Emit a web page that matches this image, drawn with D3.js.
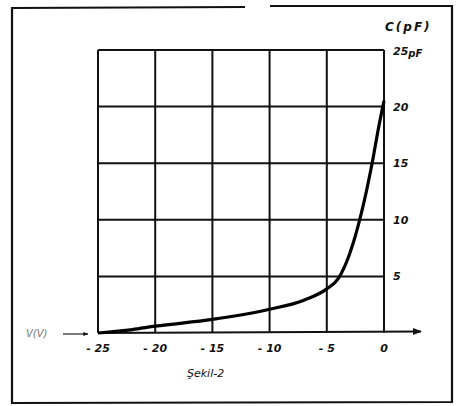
<!DOCTYPE html>
<html>
<head>
<meta charset="utf-8">
<script src="https://cdn.jsdelivr.net/npm/d3@7"></script>
<style>
  body { margin: 0; background: #fff; }
  text { font-family: "DejaVu Sans", sans-serif; font-style: italic; font-weight: bold; fill: #111; }
</style>
</head>
<body>
<div id="chart"></div>
<script>
  // reverse voltage (V) and capacitance (pF)
  const voltage = [-25, -22, -20, -15, -10, -7, -5, -4, -3, -2, -1, -0.5, 0];
  const capacitance = [0, 0.3, 0.6, 1.2, 2.1, 2.9, 3.9, 4.8, 7, 10.5, 15.2, 18, 20.5];
  const xTicks = [-25, -20, -15, -10, -5, 0];
  const yTicks = [5, 10, 15, 20, 25];

  const W = 459, H = 406;
  const mLeft = 98, mRight = 384, mTop = 50, mBottom = 333;

  const svg = d3.select("#chart").append("svg")
    .attr("width", W).attr("height", H);

  const x = d3.scaleLinear().domain([-25, 0]).range([mLeft, mRight]);
  const y = d3.scaleLinear().domain([0, 25]).range([mBottom, mTop]);

  // outer frame, with the torn gap on top
  svg.append("path")
    .attr("d", `M245,7 L12,8 L12,403 L452,402 L452,6 L270,6`)
    .attr("fill", "none").attr("stroke", "#111").attr("stroke-width", 2.2);

  // grid
  const grid = svg.append("g").attr("stroke", "#111").attr("stroke-width", 2);
  grid.selectAll(".v").data(xTicks).join("line")
    .attr("x1", d => x(d)).attr("x2", d => x(d))
    .attr("y1", y(25)).attr("y2", y(0));
  grid.selectAll(".h").data(yTicks).join("line")
    .attr("x1", x(-25)).attr("x2", x(0))
    .attr("y1", d => y(d)).attr("y2", d => y(d));

  // x axis extended with arrow
  svg.append("defs").append("marker")
    .attr("id", "arr").attr("viewBox", "0 0 10 10")
    .attr("refX", 9).attr("refY", 5)
    .attr("markerWidth", 5).attr("markerHeight", 4).attr("orient", "auto")
    .append("path").attr("d", "M0,1 L10,5 L0,9 Z").attr("fill", "#111");

  svg.append("line")
    .attr("x1", x(-25)).attr("x2", 421).attr("y1", y(0)).attr("y2", y(0) - 1.5)
    .attr("stroke", "#111").attr("stroke-width", 2.2)
    .attr("marker-end", "url(#arr)");

  // left small arrow and faint label
  svg.append("line")
    .attr("x1", 63).attr("x2", 88).attr("y1", 334).attr("y2", 334)
    .attr("stroke", "#333").attr("stroke-width", 1.3)
    .attr("marker-end", "url(#arr)");
  svg.append("text").attr("x", 26).attr("y", 337)
    .attr("font-size", 10).style("font-weight", "normal").style("fill", "#777").text("V(V)");

  // curve
  const pts = voltage.map((v, i) => [v, capacitance[i]]);
  svg.append("path")
    .datum(pts)
    .attr("fill", "none").attr("stroke", "#000").attr("stroke-width", 3.2)
    .attr("d", d3.line().x(d => x(d[0])).y(d => y(d[1])).curve(d3.curveMonotoneX));

  // tick labels
  svg.selectAll(".xl").data(xTicks).join("text")
    .attr("x", d => x(d)).attr("y", 352)
    .attr("text-anchor", "middle").attr("font-size", 11)
    .text(d => d === 0 ? "0" : "- " + Math.abs(d));

  svg.selectAll(".yl").data(yTicks.filter(d => d < 25)).join("text")
    .attr("x", x(0) + 9).attr("y", d => y(d) + 4)
    .attr("font-size", 11)
    .text(d => d);

  const t25 = svg.append("text").attr("x", x(0) + 9).attr("y", y(25) + 5).attr("font-size", 11);
  t25.append("tspan").text("25");
  t25.append("tspan").attr("font-size", 10).attr("dy", 2).text("pF");

  svg.append("text").attr("x", 385).attr("y", 31)
    .attr("font-size", 12).attr("letter-spacing", 2).text("C(pF)");

  svg.append("text").attr("x", 187).attr("y", 377)
    .attr("font-size", 11).style("font-weight", "normal").text("Şekil-2");
</script>
</body>
</html>
